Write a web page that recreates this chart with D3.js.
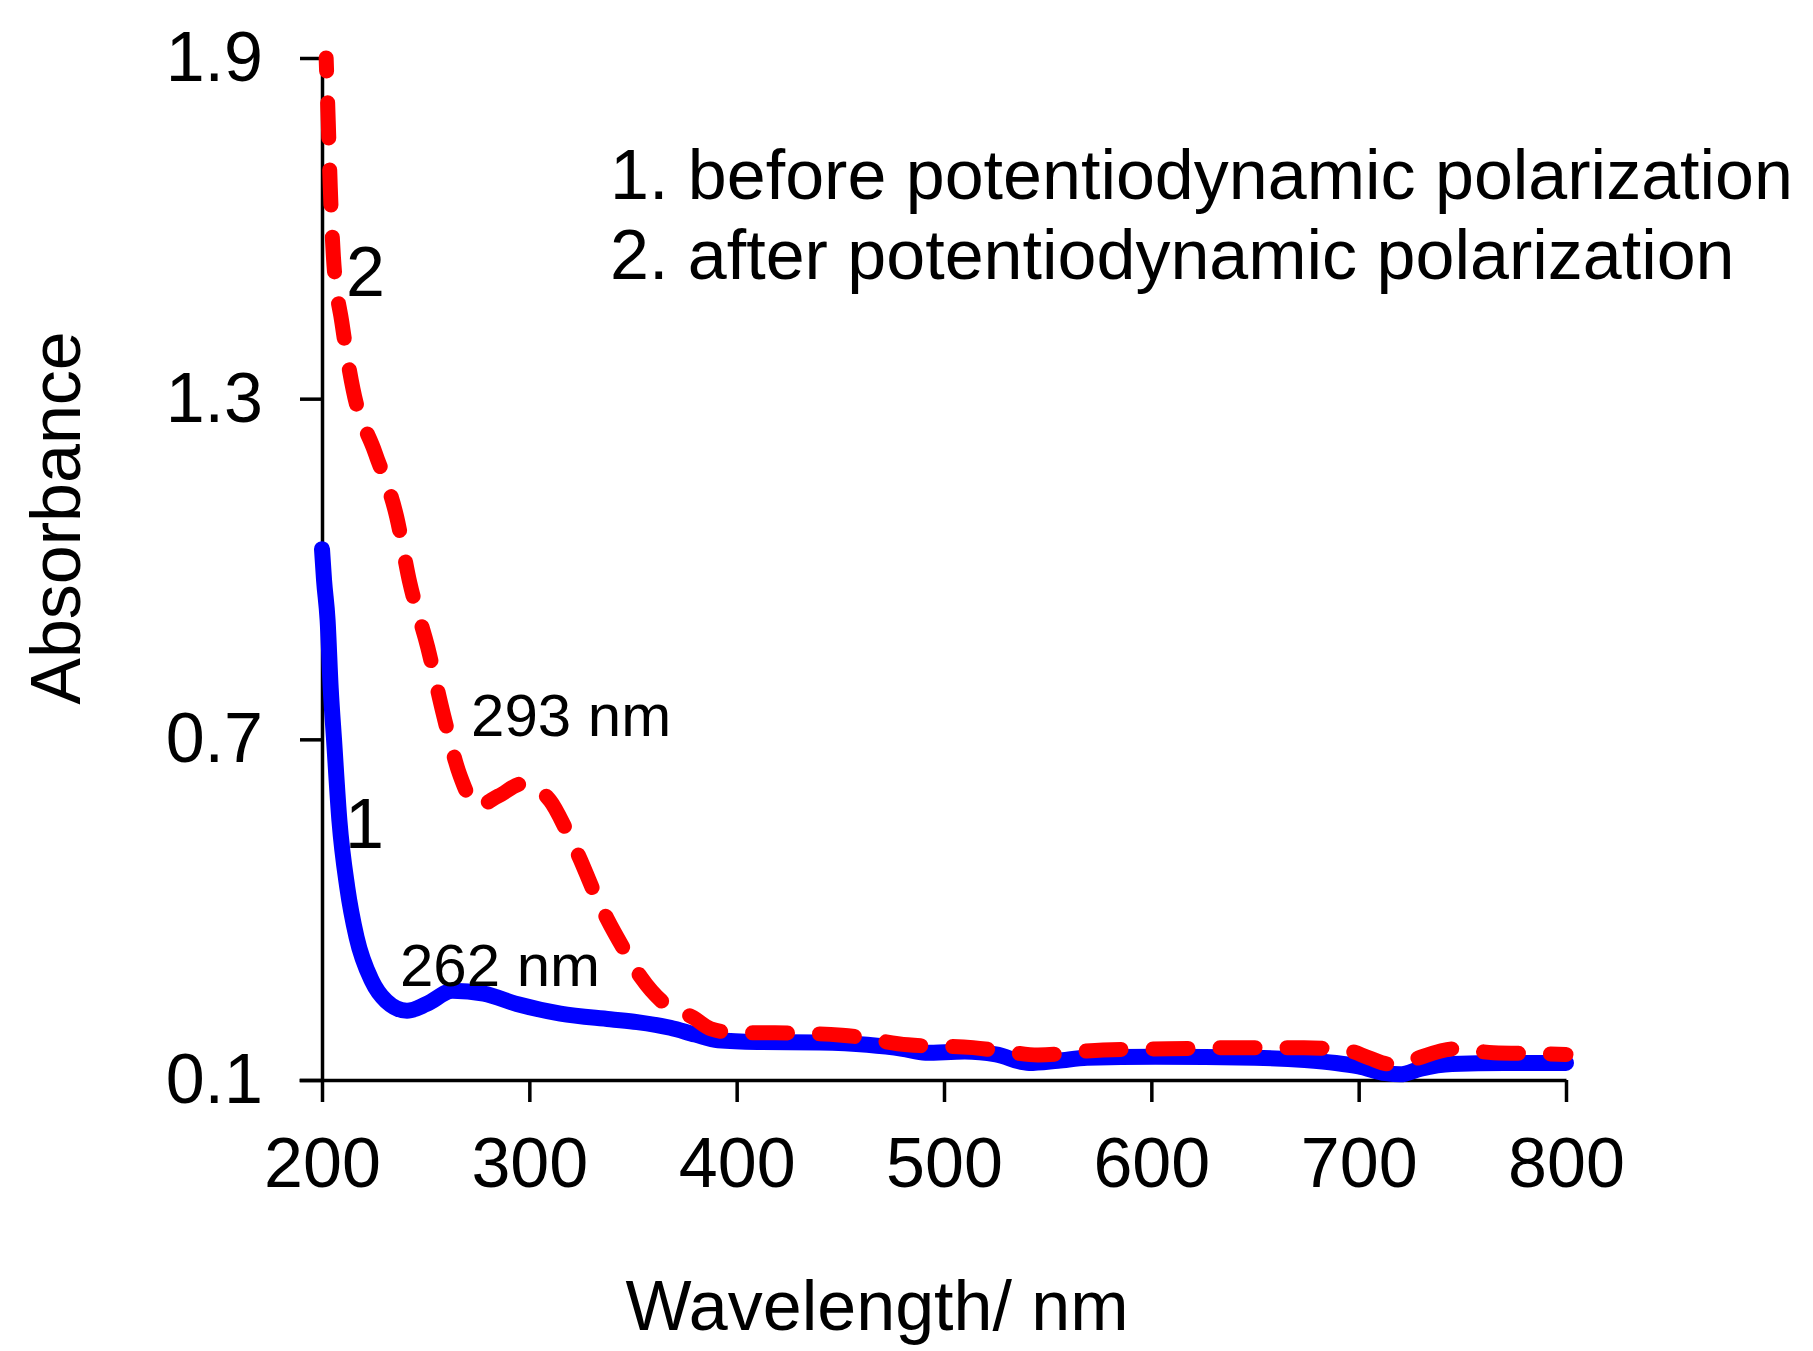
<!DOCTYPE html>
<html>
<head>
<meta charset="utf-8">
<script src="https://cdn.jsdelivr.net/npm/d3@7"></script>
<style>
    body { margin: 0; background: #fff; }
    svg { display: block; font-family: "Liberation Sans", Arial, sans-serif; }
</style>
</head>
<body>
<div id="chartdiv"></div>
<script>
// data
let wl_before = [200, 201, 202.7, 204.2, 205.8, 208.4, 212.2, 216.7, 224, 231, 241, 250.5, 263, 278, 294, 315, 339, 352, 368, 380, 391, 410, 440, 463, 480, 491, 510, 525, 541, 555, 569, 602, 650, 674, 689, 700, 713, 720, 730, 745, 770, 800],
    abs_before = [1.035, 0.98, 0.91, 0.79, 0.70, 0.557, 0.439, 0.351, 0.275, 0.239, 0.222, 0.234, 0.257, 0.252, 0.234, 0.217, 0.207, 0.202, 0.192, 0.18, 0.17, 0.167, 0.166, 0.162, 0.155, 0.148, 0.15, 0.145, 0.13, 0.134, 0.139, 0.141, 0.139, 0.135, 0.13, 0.124, 0.112, 0.11, 0.12, 0.128, 0.13, 0.13];

let wl_after = [202, 203, 204, 205.5, 209.6, 215, 225.6, 236, 242.4, 251, 258.4, 266.6, 275, 285, 297, 310, 318, 324.4, 331, 337.5, 346, 354, 365.4, 379, 387.6, 400, 418.5, 450.8, 482.6, 514, 530, 545.3, 576.7, 608, 642.3, 673.6, 695.8, 705, 715, 723.8, 746.5, 765, 792, 800],
    abs_after = [1.90, 1.79, 1.672, 1.55, 1.434, 1.316, 1.205, 1.092, 0.975, 0.862, 0.746, 0.636, 0.583, 0.6, 0.622, 0.592, 0.539, 0.49, 0.433, 0.384, 0.328, 0.28, 0.234, 0.21, 0.19, 0.183, 0.183, 0.179, 0.162, 0.157, 0.15, 0.144, 0.153, 0.155, 0.157, 0.157, 0.151, 0.139, 0.128, 0.134, 0.155, 0.148, 0.146, 0.145];

let x_ticks = [200, 300, 400, 500, 600, 700, 800],
    y_ticks = [0.1, 0.7, 1.3, 1.9];

let legend_lines = ["1. before potentiodynamic polarization",
                    "2. after potentiodynamic polarization"];
let x_title = "Wavelength/ nm",
    y_title = "Absorbance";

// draw
{
    let width = 1813,
        height = 1351,
        left = 322,
        right = 1566,
        top = 58,
        bottom = 1080;

    let x = d3.scaleLinear()
        .domain([200, 800])
        .range([left, right]);
    let y = d3.scaleLinear()
        .domain([0.1, 1.9])
        .range([bottom, top]);

    let svg = d3.select("#chartdiv").append("svg")
        .attr("width", width)
        .attr("height", height);

    // axes
    let xAxis = d3.axisBottom(x)
        .tickValues(x_ticks)
        .tickSize(22)
        .tickSizeOuter(0)
        .tickPadding(35)
        .tickFormat(d3.format("d"));
    let yAxis = d3.axisLeft(y)
        .tickValues(y_ticks)
        .tickSize(22)
        .tickSizeOuter(0)
        .tickPadding(37)
        .tickFormat(d3.format(".1f"));

    let gx = svg.append("g")
        .attr("transform", "translate(0," + bottom + ")")
        .call(xAxis);
    let gy = svg.append("g")
        .attr("transform", "translate(" + left + ",0)")
        .call(yAxis);
    [gx, gy].forEach(function(g) {
        g.select(".domain").attr("stroke", "#000").attr("stroke-width", 3.5);
        g.selectAll(".tick line").attr("stroke", "#000").attr("stroke-width", 3.5);
        g.selectAll(".tick text")
            .attr("fill", "#000")
            .attr("font-size", 70)
            .attr("font-family", "'Liberation Sans', Arial, sans-serif");
    });
    // extend x axis line over the 0.1 tick
    gx.select(".domain").attr("d", "M" + (left - 22 - 0.5) + ",0.5H" + (right + 0.5));

    // curves
    let line = d3.line()
        .x(function(d) { return x(d[0]); })
        .y(function(d) { return y(d[1]); })
        .curve(d3.curveMonotoneX);

    let before = d3.zip(wl_before, abs_before),
        after = d3.zip(wl_after, abs_after);

    svg.append("path")
        .datum(before)
        .attr("d", line)
        .attr("fill", "none")
        .attr("stroke", "#0000ff")
        .attr("stroke-width", 16)
        .attr("stroke-linejoin", "round")
        .attr("stroke-linecap", "round");

    svg.append("path")
        .datum(after)
        .attr("d", line)
        .attr("fill", "none")
        .attr("stroke", "#ff0000")
        .attr("stroke-width", 15)
        .attr("stroke-linecap", "round")
        .attr("stroke-dasharray", "35,32")
        .attr("stroke-dashoffset", 22);

    // curve labels
    let notes = [
        { text: "2", wl: 211.6, a: 1.48, size: 70 },
        { text: "1", wl: 211.1, a: 0.508, size: 70 },
        { text: "293 nm", wl: 271.9, a: 0.705, size: 60 },
        { text: "262 nm", wl: 237.6, a: 0.266, size: 60 }
    ];
    svg.selectAll(".note")
        .data(notes)
        .enter()
        .append("text")
        .attr("class", "note")
        .attr("x", function(d) { return x(d.wl); })
        .attr("y", function(d) { return y(d.a); })
        .attr("font-size", function(d) { return d.size; })
        .attr("fill", "#000")
        .text(function(d) { return d.text; });

    // legend text
    svg.selectAll(".legendText")
        .data(legend_lines)
        .enter()
        .append("text")
        .attr("class", "legendText")
        .attr("x", 610)
        .attr("y", function(d, i) { return 199 + i * 80; })
        .attr("font-size", 70)
        .attr("fill", "#000")
        .text(function(d) { return d; });

    // axis titles
    svg.append("text")
        .attr("x", 877)
        .attr("y", 1330)
        .attr("text-anchor", "middle")
        .attr("font-size", 70)
        .text(x_title);
    svg.append("text")
        .attr("transform", "translate(80,518) rotate(-90)")
        .attr("text-anchor", "middle")
        .attr("font-size", 70)
        .text(y_title);
}
</script>
</body>
</html>
